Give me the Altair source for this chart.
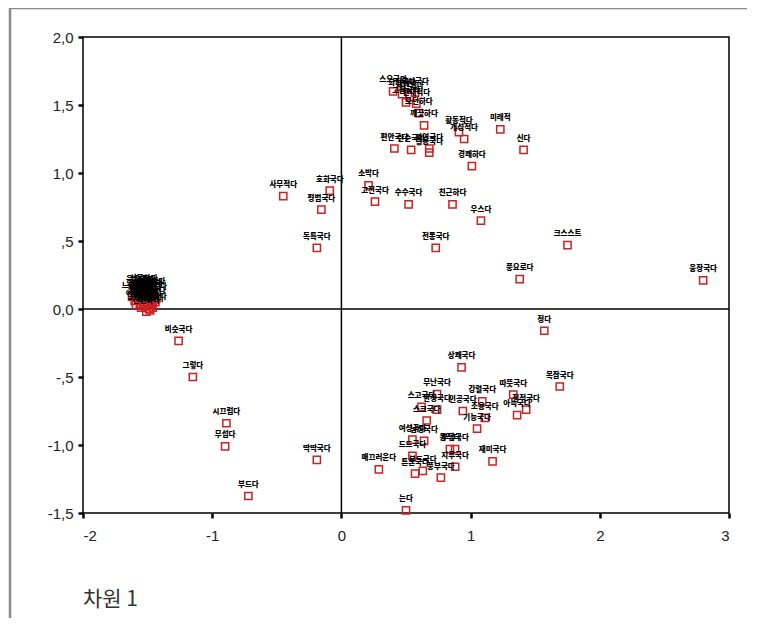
import altair as alt
import pandas as pd

# ---- data (dimension 1 / dimension 2 scores) ----
cluster_x = [-1.58, -1.55, -1.52, -1.49, -1.46, -1.60, -1.57, -1.54, -1.51, -1.48,
             -1.45, -1.59, -1.56, -1.53, -1.50, -1.47, -1.44, -1.55, -1.52, -1.49,
             -1.46, -1.51, -1.48, -1.53, -1.50, -1.47, -1.56, -1.53, -1.62, -1.43]
cluster_y = [0.10, 0.12, 0.11, 0.13, 0.10, 0.06, 0.08, 0.07, 0.08, 0.06,
             0.07, 0.03, 0.04, 0.05, 0.03, 0.04, 0.05, 0.01, 0.02, 0.00,
             0.01, -0.02, -0.01, 0.09, 0.11, 0.12, 0.13, 0.14, 0.09, 0.08]
cluster_lab = ["가볍다", "무겁다", "넓다", "좁다", "새롭다", "젊다", "강하다", "약하다",
               "예쁘다", "낡다", "밝다", "어둡다", "귀엽다", "멋지다", "즐겁다", "슬프다",
               "차갑다", "깔끔하다", "고요하다", "거칠다", "차분하다", "신선하다", "섬세하다",
               "답답하다", "시원하다", "포근하다", "은은하다", "산뜻하다", "느리다", "빠르다"]

left_x = [-0.45, -0.09, -0.155, -0.19, -1.26, -1.15, -0.89, -0.90, -0.19, -0.72]
left_y = [0.83, 0.87, 0.73, 0.45, -0.235, -0.50, -0.84, -1.01, -1.11, -1.375]
left_lab = ["사무적다", "호화국다", "평범국다", "독특국다", "비슷국다", "그렇다",
            "시끄럽다", "무섭다", "딱딱국다", "부드다"]

top_x = [0.40, 0.47, 0.53, 0.57, 0.50, 0.58, 0.60, 0.64, 0.41, 0.54, 0.68, 0.68,
         0.91, 0.95, 1.23, 1.41, 1.01, 0.21, 0.26, 0.52, 0.86, 1.08, 0.73]
top_y = [1.60, 1.58, 1.56, 1.59, 1.52, 1.51, 1.44, 1.35, 1.18, 1.17, 1.18, 1.15,
         1.30, 1.25, 1.32, 1.17, 1.05, 0.91, 0.79, 0.77, 0.77, 0.65, 0.45]
top_lab = ["스오국다", "화려국다", "세련되다", "우아국다", "고급국다", "현대적다", "모던하다",
           "깨끗하다", "편안국다", "단순국다", "자연국다", "실용국다", "활동적다", "개성적다",
           "미래적", "신다", "경쾌하다", "소박다", "고전국다", "수수국다", "친근하다",
           "우스다", "전통국다"]

right_x = [1.75, 1.38, 2.80, 1.57, 1.69]
right_y = [0.47, 0.22, 0.21, -0.16, -0.57]
right_lab = ["크스스트", "풍요로다", "웅장국다", "정다", "복잡국다"]

bottom_x = [0.93, 0.74, 1.33, 0.62, 0.74, 1.09, 1.36, 1.43, 1.05, 0.94, 0.66, 0.55,
            0.64, 0.84, 0.88, 1.17, 0.55, 0.88, 0.29, 0.57, 0.63, 0.77, 0.50, 1.11]
bottom_y = [-0.43, -0.625, -0.63, -0.72, -0.74, -0.68, -0.78, -0.74, -0.88, -0.75, -0.82, -0.96,
            -0.97, -1.03, -1.03, -1.12, -1.08, -1.16, -1.18, -1.21, -1.19, -1.24, -1.48, -0.80]
bottom_lab = ["상쾌국다", "무난국다", "따뜻국다", "스고국다", "안정국다", "강렬국다", "아늑국다",
              "정적국다", "기능국다", "인공국다", "스크국다", "여성국다", "남성국다", "동적다",
              "부담국다", "재미국다", "드드국다", "지루국다", "매끄러운다", "튼튼국다", "부드국다",
              "풍부국다", "는다", "조용국다"]

title_text = ["차원 1"]

xs = cluster_x + left_x + top_x + right_x + bottom_x
ys = cluster_y + left_y + top_y + right_y + bottom_y
labels = cluster_lab + left_lab + top_lab + right_lab + bottom_lab

df = pd.DataFrame({"x": xs, "y": ys, "label": labels})

x_ticks = [-2, -1, 0, 1, 2, 3]
y_ticks = [-1.5, -1.0, -0.5, 0.0, 0.5, 1.0, 1.5, 2.0]

xscale = alt.Scale(domain=[-2, 3], nice=False, zero=False)
yscale = alt.Scale(domain=[-1.5, 2.0], nice=False, zero=False)

x_axis = alt.Axis(
    values=x_ticks, title=None, grid=False, domain=False,
    tickColor="black", tickSize=5, tickWidth=2.5,
    labelFont="Liberation Sans", labelFontSize=15, labelColor="#222",
    labelPadding=10,
    labelExpr="(datum.value < 0 ? '-' : '') + format(abs(datum.value), 'd')",
)
y_axis = alt.Axis(
    values=y_ticks, title=None, grid=False, domain=False,
    tickColor="black", tickSize=5, tickWidth=2.5,
    labelFont="Liberation Sans", labelFontSize=15, labelColor="#222",
    labelPadding=5,
    labelExpr="datum.value == 0 ? '0,0' : (datum.value < 0 ? '-' : '') + "
              "(abs(datum.value) == 0.5 ? ',5' : replace(format(abs(datum.value), '.1f'), '.', ','))",
)

base = alt.Chart(df)

points = base.mark_point(
    shape="square", filled=False, color="#cc2222", size=52, strokeWidth=1.5, opacity=1
).encode(
    x=alt.X("x:Q", scale=xscale, axis=x_axis),
    y=alt.Y("y:Q", scale=yscale, axis=y_axis),
)

texts = base.mark_text(
    font="Noto Sans CJK KR", fontSize=7.5, fontWeight=900, color="black", dy=-11
).encode(
    x=alt.X("x:Q", scale=xscale),
    y=alt.Y("y:Q", scale=yscale),
    text="label:N",
)

zero_df = pd.DataFrame({"v": [0.0]})
vline = alt.Chart(zero_df).mark_rule(color="black", strokeWidth=1.5).encode(
    x=alt.X("v:Q", scale=xscale)
)
hline = alt.Chart(zero_df).mark_rule(color="black", strokeWidth=1.5).encode(
    y=alt.Y("v:Q", scale=yscale)
)

frame = alt.Chart(zero_df).mark_rect(
    fill=None, stroke="#8a8a8a", strokeWidth=2.5, clip=False
).encode(
    x=alt.value(-73), x2=alt.value(1200), y=alt.value(-29), y2=alt.value(900)
)

title_mark = alt.Chart(pd.DataFrame({"t": title_text})).mark_text(
    font="Noto Sans CJK KR", fontSize=21, color="#333", align="left", baseline="middle"
).encode(
    x=alt.value(0), y=alt.value(563), text="t:N"
)

chart = alt.layer(frame, vline, hline, points, texts, title_mark).properties(
    width=646,
    height=476,
    autosize=alt.AutoSizeParams(type="none"),
    padding={"left": 75, "top": 29, "right": 18, "bottom": 105},
).configure_view(stroke="black", strokeWidth=1.5)

chart.save("out.html", embed_options={"renderer": "svg", "actions": False})
